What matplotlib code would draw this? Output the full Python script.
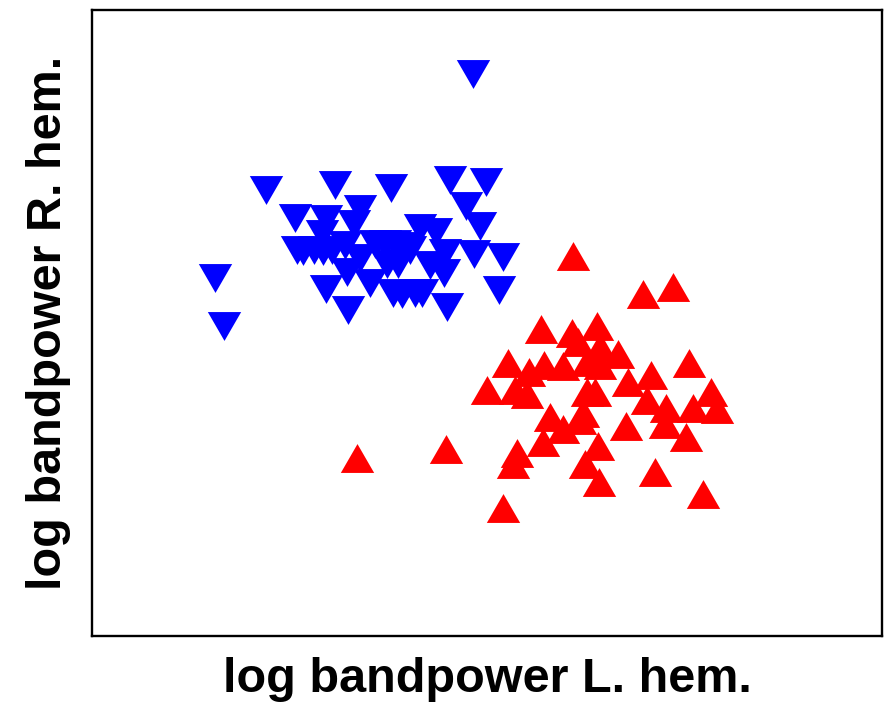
import matplotlib
matplotlib.use("Agg")
import matplotlib.pyplot as plt

# left hemisphere / right hemisphere log bandpower, class 1 (blue) and class 2 (red)
blue_x = [3.81, 1.74, 2.43, 2.99, 3.58, 3.94, 3.74, 1.23, 1.32, 2.03, 2.34, 2.68,
          2.62, 2.30, 2.05, 2.22, 2.11, 2.31, 2.40, 2.53, 2.83, 2.93, 3.03, 3.13,
          3.18, 3.28, 3.44, 3.88, 3.53, 3.82, 4.11, 2.55, 2.78, 2.34, 2.56, 3.01,
          3.10, 3.23, 3.30, 3.52, 4.07, 3.55, 2.95, 3.06, 2.68, 3.38]
blue_y = [5.62, 4.46, 4.51, 4.48, 4.56, 4.54, 4.30, 3.58, 3.10, 4.18, 4.17, 4.27,
          4.12, 4.02, 3.86, 3.86, 3.85, 3.85, 3.86, 3.91, 3.92, 3.92, 3.92, 3.90,
          3.86, 4.08, 4.04, 4.10, 3.83, 3.82, 3.79, 3.64, 3.53, 3.47, 3.26, 3.43,
          3.42, 3.43, 3.43, 3.63, 3.46, 3.29, 3.72, 3.72, 3.78, 3.71]

red_x = [4.81, 5.51, 5.81, 2.65, 3.54, 4.11, 4.49, 4.80, 5.05, 5.97, 3.95, 4.16,
         4.37, 4.52, 4.71, 4.23, 4.35, 4.58, 4.71, 4.51, 4.25, 4.21, 4.91, 5.03,
         5.08, 5.08, 5.26, 5.36, 5.59, 4.95, 4.95, 5.55, 5.74, 6.01, 6.19, 6.25,
         5.73, 5.34, 5.94, 5.06, 4.93, 5.07, 5.63, 6.11, 4.86, 4.88]
red_y = [3.80, 3.42, 3.49, 1.78, 1.87, 1.28, 3.07, 3.03, 3.10, 2.73, 2.46, 2.73,
         2.64, 2.71, 2.70, 2.46, 2.42, 2.19, 2.07, 1.94, 1.83, 1.72, 2.23, 2.44,
         2.71, 2.89, 2.82, 2.54, 2.61, 2.74, 2.44, 2.36, 2.28, 2.28, 2.44, 2.27,
         2.12, 2.10, 1.99, 1.90, 1.72, 1.54, 1.64, 1.42, 2.94, 2.16]

# equilateral triangles like R's pch 17 / pch 25
tri_up = [(-1, -0.866), (1, -0.866), (0, 0.866)]
tri_down = [(-1, 0.866), (1, 0.866), (0, -0.866)]

plt.rcParams['font.family'] = ['Liberation Sans', 'DejaVu Sans']

fig = plt.figure(figsize=(8.88, 7.03), dpi=100)
ax = fig.add_axes([0.1036, 0.0953, 0.8896, 0.8905])

ax.plot(blue_x, blue_y, linestyle='none', marker=tri_down, markersize=24,
        color='#0000ff', markeredgewidth=0)
ax.plot(red_x, red_y, linestyle='none', marker=tri_up, markersize=24,
        color='#ff0000', markeredgewidth=0)

ax.set_xlim(0, 7.9)
ax.set_ylim(0, 6.26)
ax.set_xticks([])
ax.set_yticks([])
for sp in ax.spines.values():
    sp.set_linewidth(1.7)

ax.set_xlabel('log bandpower L. hem.', fontsize=35, fontweight='bold', labelpad=15)
ax.set_ylabel('log bandpower R. hem.', fontsize=35, fontweight='bold', labelpad=15)

fig.savefig('out.png', dpi=100)
